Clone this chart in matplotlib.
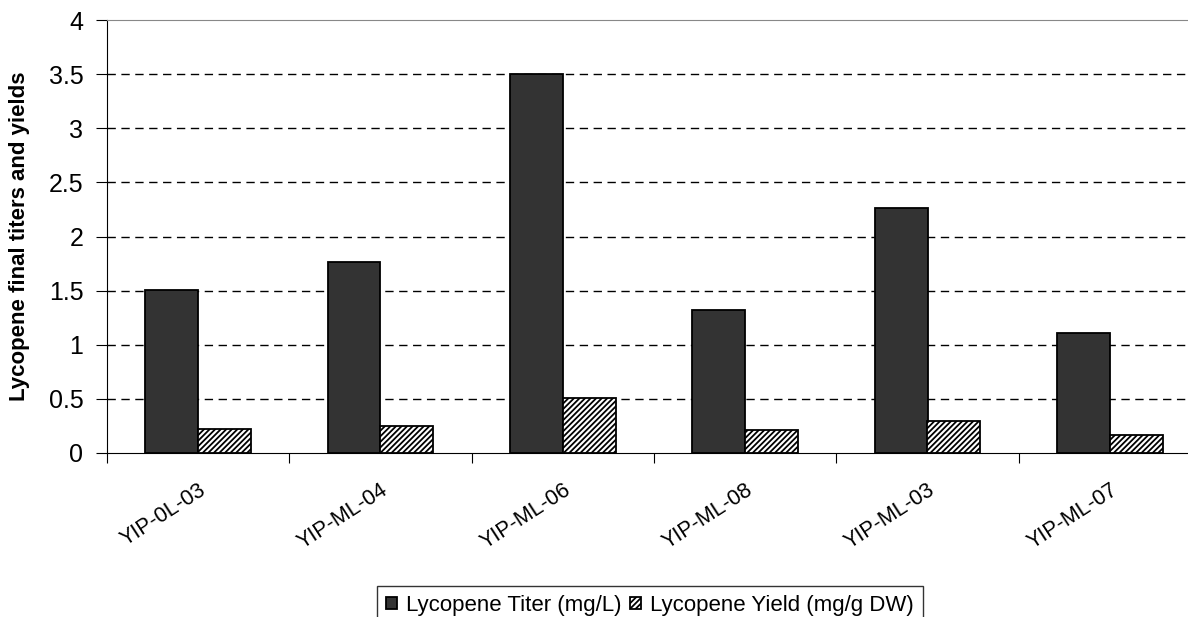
import numpy as np
from matplotlib import pyplot as plt
from matplotlib import rcParams

rcParams['font.family'] = ['Liberation Sans', 'DejaVu Sans']
rcParams['hatch.linewidth'] = 1.3

strains = ["YIP-0L-03", "YIP-ML-04", "YIP-ML-06", "YIP-ML-08", "YIP-ML-03", "YIP-ML-07"]
titer = [1.51, 1.76, 3.50, 1.32, 2.26, 1.11]
yields = [0.22, 0.25, 0.51, 0.21, 0.30, 0.17]

fig = plt.figure(figsize=(11.88, 6.17), dpi=100)
# plot area runs past the right edge of the picture, like the original
ax = fig.add_axes([107/1188, 1-453/617, 1094/1188, 433/617])

x = np.arange(len(strains)) + 0.5
w = 0.29
ax.bar(x - w/2, titer, w, color='#333333', edgecolor='black', linewidth=1.3,
       label='Lycopene Titer (mg/L)', zorder=3)
ax.bar(x + w/2, yields, w, color='white', edgecolor='black', linewidth=1.3,
       hatch='//////', label='Lycopene Yield (mg/g DW)', zorder=3)

ax.set_xlim(0, len(strains))
ax.set_ylim(0, 4)
ax.set_yticks(np.arange(0, 4.01, 0.5))
ax.set_yticklabels(['0', '0.5', '1', '1.5', '2', '2.5', '3', '3.5', '4'], fontsize=18)
for yv in np.arange(0.5, 3.6, 0.5):
    ax.axhline(yv, color='black', linestyle=(0, (6, 4)), linewidth=1, zorder=1)

# category boundary ticks, labels at the centres
ax.set_xticks(np.arange(0, len(strains) + 1))
ax.set_xticklabels([])
ax.set_xticks(x, minor=True)
ax.set_xticklabels(strains, minor=True, rotation=33, ha='right', va='top',
                   rotation_mode='anchor', fontsize=15.5)
ax.tick_params(axis='x', which='minor', length=0, pad=19)
ax.tick_params(axis='x', which='major', length=7, direction='out', color='black')
ax.tick_params(axis='y', length=8, direction='out', pad=9)

ax.spines['top'].set_color('#888888')
ax.spines['right'].set_visible(False)
ax.spines['left'].set_color('black')
ax.spines['bottom'].set_color('black')

ax.set_ylabel('Lycopene final titers and yields', fontsize=16, fontweight='bold')
ax.yaxis.set_label_coords(-0.07, 0.5)

leg = ax.legend(loc='upper center', bbox_to_anchor=(650/1188, 1-586/617), ncol=2,
                bbox_transform=fig.transFigure,
                fontsize=16, frameon=True, fancybox=False, edgecolor='black',
                handlelength=0.5, handleheight=0.5, handletextpad=0.4,
                columnspacing=0.4, borderpad=0.4, borderaxespad=0)
leg.get_frame().set_linewidth(1)

fig.savefig('out.png', dpi=100)
